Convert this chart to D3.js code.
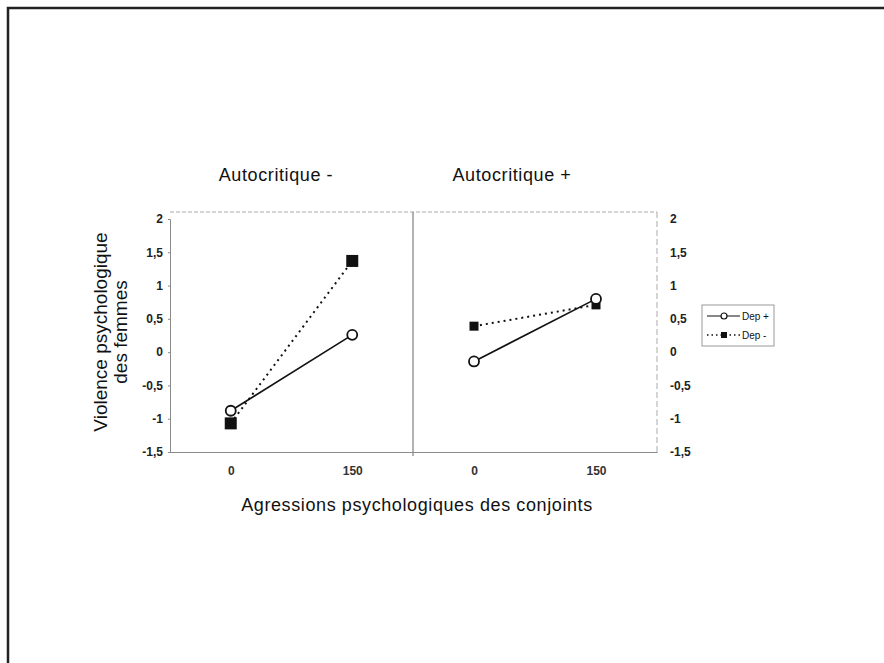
<!DOCTYPE html>
<html>
<head>
<meta charset="utf-8" />
<title>Violence psychologique des femmes</title>
<style>
  body { margin: 0; background: #fff; }
  svg { font-family: "Liberation Sans", Arial, sans-serif; }
</style>
</head>
<body>
<script src="https://d3js.org/d3.v7.min.js"></script>
<script>
// data
var panels = ["Autocritique -", "Autocritique +"];
var xCats = ["0", "150"];
var series = ["Dep +", "Dep -"];
var depPlus = [[-0.88, 0.26], [-0.14, 0.80]];   // per panel: values at 0, 150
var depMinus = [[-1.07, 1.37], [0.39, 0.71]];
var yTicks = [2, 1.5, 1, 0.5, 0, -0.5, -1, -1.5];

var width = 884, height = 663;
var svg = d3.select("body").append("svg")
    .attr("width", width)
    .attr("height", height);

// outer frame (cut by the page edge)
svg.append("path")
   .attr("d", "M8,663 V8 H884")
   .attr("fill", "none")
   .attr("stroke", "#222")
   .attr("stroke-width", 2.5);

var plotLeft = 170, plotMid = 413, plotRight = 657;
var plotTop = 212, plotBottom = 452;

var y = d3.scaleLinear().domain([-1.5, 2]).range([plotBottom, 219]);
var xs = [
    d3.scalePoint().domain(xCats).range([plotLeft, plotMid]).padding(0.5),
    d3.scalePoint().domain(xCats).range([plotMid, plotRight]).padding(0.5)
];

var gray = "#8a8a8a";
var fmt = d => String(d).replace(".", ",");

// panel borders
svg.append("line").attr("x1", plotLeft).attr("x2", plotRight).attr("y1", plotTop).attr("y2", plotTop)
   .attr("stroke", "#aaa").attr("stroke-dasharray", "4,2");
svg.append("line").attr("x1", plotRight).attr("x2", plotRight).attr("y1", plotTop).attr("y2", plotBottom)
   .attr("stroke", "#aaa").attr("stroke-dasharray", "6,3");
svg.append("line").attr("x1", plotMid).attr("x2", plotMid).attr("y1", plotTop).attr("y2", plotBottom + 4)
   .attr("stroke", "#666");

// y axes
var yLeft = svg.append("g")
    .attr("transform", "translate(" + plotLeft + ",0)")
    .call(d3.axisLeft(y).tickValues(yTicks).tickSize(2).tickPadding(5).tickFormat(fmt));
var yRight = svg.append("g")
    .attr("transform", "translate(" + (plotRight + 8) + ",0)")
    .call(d3.axisRight(y).tickValues(yTicks).tickSize(0).tickPadding(5).tickFormat(fmt));
yRight.select(".domain").remove();

[yLeft, yRight].forEach(function(g) {
    g.selectAll("text").attr("font-size", 12).attr("font-weight", "bold")
     .attr("fill", "#222").attr("font-family", "Liberation Sans, Arial, sans-serif");
    g.selectAll("line").attr("stroke", gray);
    g.select(".domain").attr("stroke", gray);
});

// x axes
xs.forEach(function(x, i) {
    var g = svg.append("g")
        .attr("transform", "translate(0," + plotBottom + ")")
        .call(d3.axisBottom(x).tickSize(0).tickPadding(14));
    g.select(".domain").attr("stroke", gray).attr("stroke-width", 1.2);
    g.selectAll("text").attr("font-size", 12).attr("font-weight", "bold")
     .attr("fill", "#333").attr("font-family", "Liberation Sans, Arial, sans-serif");

    // panel title
    svg.append("text")
       .attr("x", i === 0 ? 276 : 512)
       .attr("y", 181)
       .attr("text-anchor", "middle")
       .attr("font-size", 18)
       .attr("letter-spacing", 0.6)
       .attr("fill", "#111")
       .text(panels[i]);

    var line = d3.line().x((d, j) => x(xCats[j])).y(d => y(d));

    svg.append("path")
       .datum(depMinus[i])
       .attr("d", line)
       .attr("fill", "none")
       .attr("stroke", "#111")
       .attr("stroke-width", 2)
       .attr("stroke-dasharray", "2,4");
    svg.append("path")
       .datum(depPlus[i])
       .attr("d", line)
       .attr("fill", "none")
       .attr("stroke", "#111")
       .attr("stroke-width", 1.6);

    var sq = i === 0 ? 12 : 9;
    svg.selectAll(null)
       .data(depMinus[i])
       .enter().append("rect")
       .attr("x", (d, j) => x(xCats[j]) - sq / 2)
       .attr("y", d => y(d) - sq / 2)
       .attr("width", sq)
       .attr("height", sq)
       .attr("fill", "#111");

    svg.selectAll(null)
       .data(depPlus[i])
       .enter().append("circle")
       .attr("cx", (d, j) => x(xCats[j]))
       .attr("cy", d => y(d))
       .attr("r", 5)
       .attr("fill", "#fff")
       .attr("stroke", "#111")
       .attr("stroke-width", 1.8);
});

// axis titles
svg.append("text")
   .attr("transform", "translate(107,332) rotate(-90)")
   .attr("text-anchor", "middle")
   .attr("font-size", 19)
   .attr("fill", "#111")
   .selectAll("tspan")
   .data(["Violence psychologique", "des femmes"])
   .enter().append("tspan")
   .attr("x", 0)
   .attr("dy", (d, i) => i === 0 ? 0 : 20)
   .text(d => d);

svg.append("text")
   .attr("x", 417)
   .attr("y", 511)
   .attr("text-anchor", "middle")
   .attr("font-size", 18)
   .attr("letter-spacing", 0.6)
   .attr("fill", "#111")
   .text("Agressions psychologiques des conjoints");

// legend
var legend = svg.append("g").attr("transform", "translate(702,305)");
legend.append("rect")
      .attr("width", 72).attr("height", 41)
      .attr("fill", "#fff").attr("stroke", "#999");
series.forEach(function(s, i) {
    var ly = 11 + i * 19;
    legend.append("line")
          .attr("x1", 5).attr("x2", 38).attr("y1", ly).attr("y2", ly)
          .attr("stroke", "#111")
          .attr("stroke-width", i === 0 ? 1.2 : 1.5)
          .attr("stroke-dasharray", i === 0 ? null : "1.5,3");
    if (i === 0) {
        legend.append("circle").attr("cx", 22).attr("cy", ly).attr("r", 3)
              .attr("fill", "#fff").attr("stroke", "#111").attr("stroke-width", 1.2);
    } else {
        legend.append("rect").attr("x", 19).attr("y", ly - 3).attr("width", 6).attr("height", 6)
              .attr("fill", "#111");
    }
    legend.append("text")
          .attr("x", 40).attr("y", ly + 4)
          .attr("font-size", 10)
          .attr("fill", "#111")
          .text(s);
});
</script>
</body>
</html>
